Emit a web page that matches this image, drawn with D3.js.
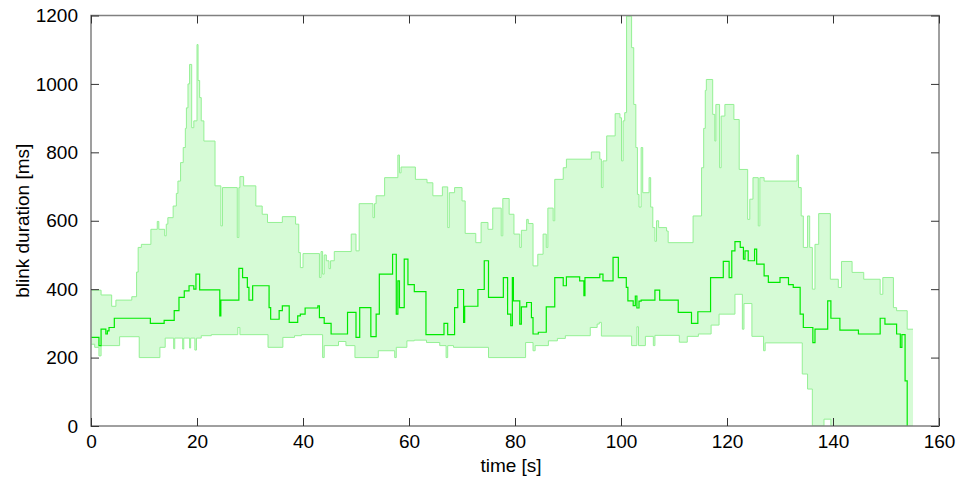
<!DOCTYPE html>
<html>
<head>
<meta charset="utf-8">
<script src="https://cdn.jsdelivr.net/npm/d3@7"></script>
<style>
  html, body { margin: 0; padding: 0; background: #ffffff; }
  svg { display: block; }
  text { font-family: "Liberation Sans", Arial, Helvetica, sans-serif; fill: #000; }
</style>
</head>
<body>
<svg id="chart" width="960" height="483"></svg>
<script>
// Blink duration over time: upper / lower band and the running median.
// Each entry is [time in s, duration in ms]; a value holds until the next time.
const upperBand = [[0,397],[1.9,383],[3.9,350],[4.7,368],[7.7,378],[8.6,450],[8.9,522],[9.5,531],[11.3,575],[12.5,598],[12.8,575],[13.9,556],[14.2,590],[14.5,609],[15.5,643],[16.1,680],[16.4,716],[16.9,770],[17.4,814],[17.8,870],[18.0,930],[18.3,1000],[18.6,1057],[19.0,872],[19.4,892],[20.0,1115],[20.2,1010],[20.5,960],[20.8,892],[21.3,833],[23.4,702],[24.5,585],[24.8,697],[27.6,551],[27.9,697],[28.1,729],[28.8,702],[31.1,643],[32.3,619],[33.3,595],[36.1,612],[38.6,590],[39.2,507],[39.5,463],[40.0,504],[43.1,434],[43.4,510],[43.7,444],[44.0,500],[44.4,483],[44.9,460],[45.2,483],[45.9,510],[49.1,561],[50.0,512],[50.6,650],[53.2,609],[53.5,650],[53.8,673],[55.4,726],[57.9,792],[58.2,740],[58.5,757],[61.2,721],[63.4,711],[64.5,673],[66.3,699],[67.3,580],[67.6,682],[68.6,697],[70.0,658],[70.6,563],[72.6,536],[73.6,595],[74.9,575],[75.8,637],[77.4,556],[77.7,665],[78.9,619],[79.8,561],[80.9,522],[81.2,572],[82.2,604],[82.5,592],[83.4,468],[84.3,502],[85.3,561],[85.9,522],[86.2,637],[87.2,600],[87.5,721],[89.1,755],[89.7,780],[94.4,801],[96.0,780],[96.3,697],[96.6,775],[97.3,848],[98.9,913],[99.8,901],[100.1,775],[100.4,892],[100.7,916],[101.05,1198],[102.0,1106],[102.4,940],[102.8,814],[103.1,677],[103.4,640],[103.8,814],[104.1,682],[105.3,726],[105.6,640],[106.0,580],[106.4,540],[106.7,600],[107.1,580],[108.6,570],[108.9,536],[113.6,614],[115.2,755],[115.6,870],[115.9,981],[116.1,1013],[117.3,911],[117.7,833],[117.9,940],[118.6,755],[118.9,906],[119.6,940],[121.3,896],[122.3,750],[123.9,604],[124.3,663],[124.9,726],[125.9,585],[126.2,726],[127.0,716],[133.2,792],[133.5,697],[134.0,614],[134.4,522],[135.2,614],[135.6,522],[136.1,400],[136.6,531],[137.3,621],[139.5,429],[141.0,405],[141.6,481],[143.6,449],[145.8,429],[148.9,385],[149.4,434],[151.4,346],[152.0,337],[154.0,283],[155.1,283]];

const lowerBand = [[0,239],[0.7,230],[1.5,205],[1.9,235],[5.4,261],[9.1,200],[13.0,230],[14.0,257],[15.6,226],[15.8,257],[17.3,225],[17.5,257],[18.6,228],[18.8,257],[19.6,222],[19.9,257],[20.8,264],[22.7,267],[27.7,288],[28.1,267],[33.4,230],[36.2,259],[38.4,264],[39.7,267],[43.7,200],[44.0,235],[46.7,247],[48.1,235],[49.8,200],[54.2,220],[57.3,200],[57.6,230],[59.6,249],[61.0,251],[63.3,244],[65.8,235],[67.0,200],[67.3,235],[68.4,230],[75.0,200],[82.0,244],[83.4,220],[83.8,235],[86.3,249],[88.0,256],[89.5,264],[94.2,288],[95.5,298],[95.9,303],[96.3,263],[102.0,235],[103.0,290],[103.3,235],[104.6,262],[106.1,235],[106.4,265],[111.0,245],[112.5,262],[114.6,269],[117.0,295],[118.5,327],[121.5,385],[122.9,283],[123.2,358],[124.7,262],[126.9,220],[127.2,243],[134.2,152],[135.2,108],[136.1,0],[138.3,20],[139.6,0],[155.1,0]];

const medianTrace = [[0,259],[1.5,235],[1.9,283],[2.8,269],[3.1,278],[3.4,288],[4.4,315],[11.2,300],[13.8,309],[15.7,337],[16.6,376],[17.6,395],[18.5,410],[19.4,400],[19.8,444],[20.5,398],[24.3,322],[24.5,368],[27.9,461],[28.6,434],[29.5,405],[29.8,368],[30.5,410],[33.6,346],[33.9,312],[35.5,337],[36.1,351],[37.4,303],[39.0,322],[39.5,327],[40.4,345],[42.8,351],[43.1,317],[44.0,300],[45.3,269],[48.4,332],[50.0,259],[50.7,346],[52.8,261],[53.8,327],[54.4,444],[56.9,502],[57.6,327],[57.9,424],[58.2,346],[59.1,488],[59.8,413],[61.0,393],[63.2,267],[66.6,300],[67.3,267],[68.6,346],[69.2,399],[70.3,303],[70.5,350],[73.0,399],[74.2,483],[75.0,376],[77.8,434],[78.6,327],[79.2,293],[79.5,434],[79.7,366],[80.9,298],[81.2,348],[82.2,361],[83.1,317],[83.4,269],[84.4,274],[85.9,348],[87.5,434],[89.1,410],[89.7,436],[92.2,424],[93.0,381],[93.2,434],[96.0,444],[96.6,424],[98.5,493],[99.5,434],[101.0,405],[101.3,366],[102.3,352],[102.7,380],[103.0,345],[103.4,365],[103.8,368],[106.4,397],[107.3,368],[110.8,332],[113.3,300],[114.5,334],[116.9,434],[119.3,481],[120.4,434],[120.9,512],[121.5,539],[122.5,522],[123.1,488],[123.4,512],[124.0,483],[125.2,517],[125.6,473],[127.0,439],[127.8,420],[130.0,434],[131.6,413],[132.5,405],[133.8,327],[134.4,288],[136.2,244],[136.6,283],[139.0,366],[139.6,315],[141.3,280],[144.8,269],[148.9,315],[149.8,298],[152.0,269],[152.7,230],[153.0,267],[153.6,132],[154.0,0]];

const xTicks = [0, 20, 40, 60, 80, 100, 120, 140, 160];
const yTicks = [0, 200, 400, 600, 800, 1000, 1200];
const xTitle = "time [s]";
const yTitle = "blink duration [ms]";

const W = 960, H = 483;
const plot = { left: 91, right: 939, top: 15.5, bottom: 426 };
const tickLen = 8;
const fontSize = 19;

const svg = d3.select("#chart");
const x = d3.scaleLinear().domain([0, 160]).range([plot.left, plot.right]);
const y = d3.scaleLinear().domain([0, 1200]).range([plot.bottom, plot.top]);

// Turn a step series into explicit corner points
function stepCorners(series) {
  const pts = [];
  series.forEach((d, i) => {
    pts.push([d[0], d[1]]);
    if (i < series.length - 1) pts.push([series[i + 1][0], d[1]]);
  });
  return pts;
}

svg.append("defs").append("clipPath").attr("id", "plotClip")
  .append("rect")
  .attr("x", plot.left).attr("y", plot.top)
  .attr("width", plot.right - plot.left).attr("height", plot.bottom - plot.top);

const g = svg.append("g").attr("clip-path", "url(#plotClip)");

const upperPts = stepCorners(upperBand);
const lowerPts = stepCorners(lowerBand);
const poly = upperPts.concat(lowerPts.slice().reverse());

const lin = d3.line().x(d => x(d[0])).y(d => y(d[1]));

// Shaded band between the bounds
g.append("path")
  .attr("d", lin(poly) + "Z")
  .attr("fill", "#d6fbd6")
  .attr("stroke", "none");

// Band edges
const stepLine = d3.line().x(d => x(d[0])).y(d => y(d[1])).curve(d3.curveStepAfter);
[upperBand, lowerBand].forEach(series => {
  g.append("path")
    .attr("d", stepLine(series))
    .attr("fill", "none")
    .attr("stroke", "#94f094")
    .attr("stroke-width", 1);
});

// Median
g.append("path")
  .attr("d", stepLine(medianTrace))
  .attr("fill", "none")
  .attr("stroke", "#00ea00")
  .attr("stroke-width", 1.2);

// Axes box and ticks
const axisColor = "#808080";
const axes = svg.append("g");

axes.append("rect")
  .attr("x", plot.left).attr("y", plot.top)
  .attr("width", plot.right - plot.left).attr("height", plot.bottom - plot.top)
  .attr("fill", "none").attr("stroke", axisColor).attr("stroke-width", 1.5);

const bottomAxis = d3.axisBottom(x).tickValues(xTicks).tickSize(-tickLen).tickPadding(tickLen + 4).tickFormat(d3.format("d"));
const topAxis = d3.axisTop(x).tickValues(xTicks).tickSize(-tickLen).tickFormat("");
const leftAxis = d3.axisLeft(y).tickValues(yTicks).tickSize(-tickLen).tickPadding(tickLen + 5).tickFormat(d3.format("d"));
const rightAxis = d3.axisRight(y).tickValues(yTicks).tickSize(-tickLen).tickFormat("");

function styleAxis(sel) {
  sel.select(".domain").remove();
  sel.selectAll(".tick line").attr("stroke", "#333").attr("stroke-width", 1);
  sel.selectAll(".tick text")
    .attr("font-family", '"Liberation Sans", Arial, sans-serif')
    .attr("font-size", fontSize).attr("fill", "#000");
}

axes.append("g").attr("transform", `translate(0,${plot.bottom})`).call(bottomAxis).call(styleAxis)
  .selectAll(".tick text").attr("dy", "0.55em");
axes.append("g").attr("transform", `translate(0,${plot.top})`).call(topAxis).call(styleAxis);
axes.append("g").attr("transform", `translate(${plot.left},0)`).call(leftAxis).call(styleAxis);
axes.append("g").attr("transform", `translate(${plot.right},0)`).call(rightAxis).call(styleAxis);

// Axis titles
svg.append("text")
  .attr("x", (plot.left + plot.right) / 2 - 4)
  .attr("y", 472)
  .attr("text-anchor", "middle")
  .attr("font-size", fontSize)
  .text(xTitle);

svg.append("text")
  .attr("transform", `translate(29,${(plot.top + plot.bottom) / 2}) rotate(-90)`)
  .attr("text-anchor", "middle")
  .attr("font-size", fontSize)
  .text(yTitle);
</script>
</body>
</html>
